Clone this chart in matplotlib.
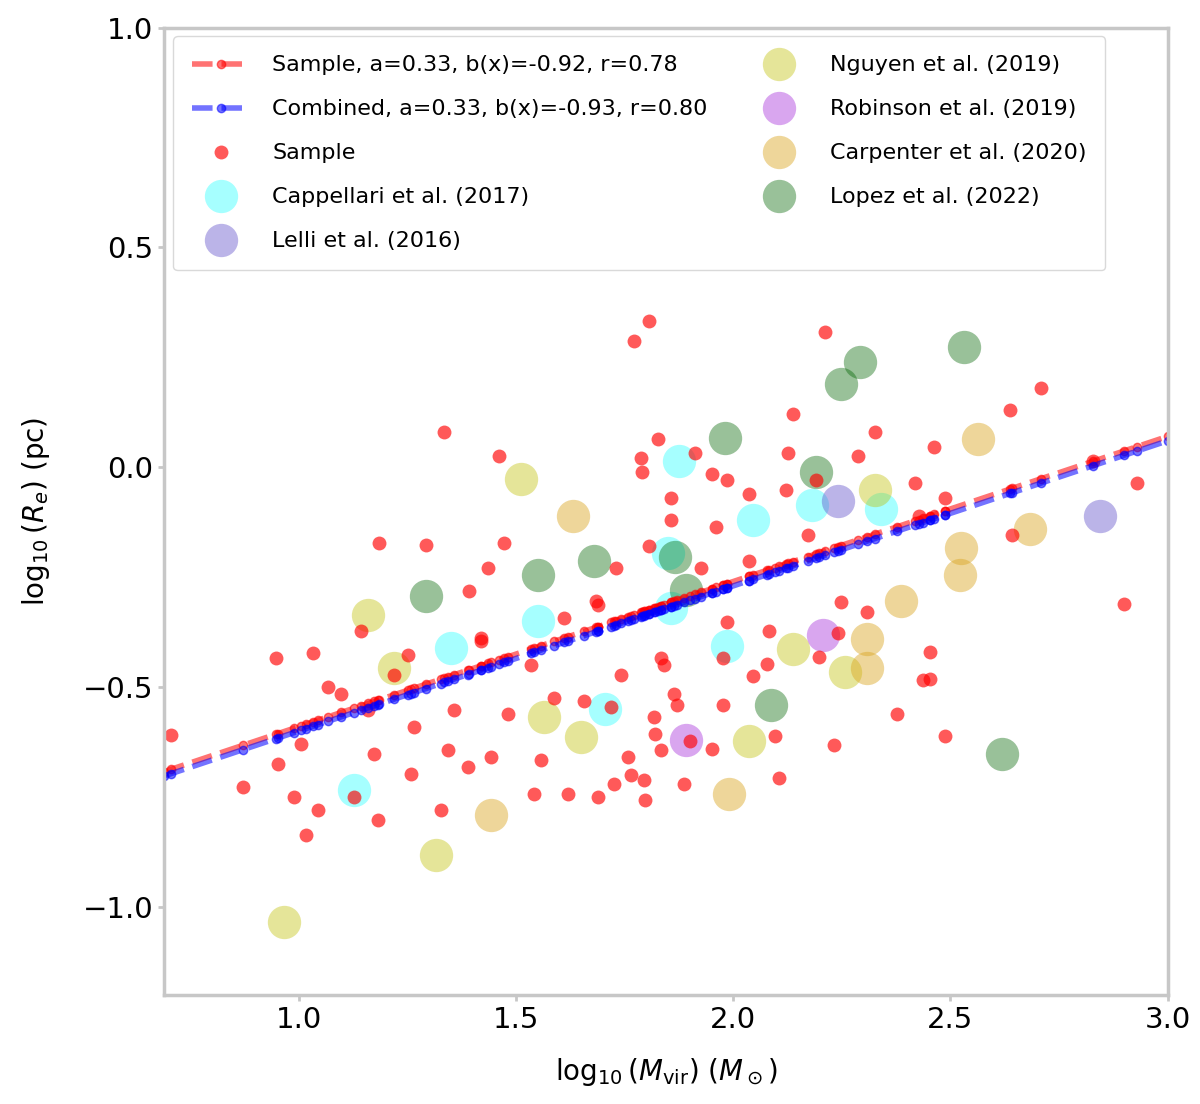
import numpy as np
import matplotlib
matplotlib.use("Agg")
import matplotlib.pyplot as plt

# --- data (log10 units) ---
sample_x = [1.806, 1.771, 1.334, 1.460, 1.184, 1.292, 1.472, 1.435, 1.391, 1.610,
            1.684, 1.419, 1.787, 1.826, 1.856, 2.211, 2.137, 2.126, 2.326, 2.287,
            2.462, 2.637, 2.708, 2.828, 2.929, 1.912, 1.790, 1.856, 1.960, 2.036,
            1.730, 1.806, 1.925, 1.985, 1.950, 2.036, 2.121, 2.190, 2.172, 2.418,
            2.487, 2.427, 2.641, 2.308, 2.241, 1.985, 2.077, 2.453, 0.947, 1.032,
            0.705, 0.871, 0.952, 1.005, 0.989, 1.044, 1.016, 1.067, 1.097, 1.159,
            1.173, 1.127, 1.182, 1.258, 1.265, 1.251, 1.143, 1.219, 1.327, 1.357,
            1.419, 1.343, 1.389, 1.442, 1.481, 1.534, 1.557, 1.541, 1.587, 1.619,
            1.656, 1.688, 1.725, 1.757, 1.794, 1.741, 1.718, 1.833, 1.817, 1.833,
            1.863, 1.688, 2.248, 2.082, 1.976, 2.045, 1.840, 1.870, 1.976, 2.197,
            2.453, 2.436, 2.377, 2.096, 2.232, 2.487, 1.951, 1.820, 1.900, 1.886,
            2.105, 2.899, 1.764, 1.797]
sample_y = [0.332, 0.287, 0.081, 0.026, -0.173, -0.177, -0.173, -0.229, -0.282, -0.343,
            -0.304, -0.388, 0.020, 0.065, -0.071, 0.307, 0.122, 0.033, 0.081, 0.026,
            0.047, 0.131, 0.181, 0.013, -0.037, 0.033, -0.012, -0.121, -0.137, -0.214,
            -0.229, -0.180, -0.229, -0.028, -0.015, -0.062, -0.053, -0.028, -0.155, -0.037,
            -0.071, -0.112, -0.155, -0.329, -0.377, -0.352, -0.447, -0.481, -0.433, -0.422,
            -0.610, -0.728, -0.675, -0.630, -0.750, -0.780, -0.836, -0.501, -0.517, -0.553,
            -0.653, -0.750, -0.802, -0.698, -0.592, -0.427, -0.372, -0.472, -0.780, -0.553,
            -0.395, -0.644, -0.682, -0.660, -0.562, -0.449, -0.666, -0.743, -0.524, -0.743,
            -0.531, -0.750, -0.721, -0.660, -0.712, -0.472, -0.546, -0.433, -0.569, -0.644,
            -0.517, -0.313, -0.307, -0.372, -0.435, -0.474, -0.451, -0.540, -0.540, -0.431,
            -0.420, -0.485, -0.562, -0.612, -0.632, -0.612, -0.641, -0.607, -0.623, -0.721,
            -0.707, -0.311, -0.700, -0.757]

c17_x = [1.550, 1.875, 2.045, 2.181, 1.849, 1.985, 1.127, 1.350, 1.704, 2.340, 1.856]
c17_y = [-0.350, 0.013, -0.121, -0.087, -0.196, -0.407, -0.735, -0.411, -0.549, -0.094, -0.320]

l16_x = [2.844, 2.241]
l16_y = [-0.112, -0.078]

n19_x = [0.965, 1.315, 1.511, 1.159, 2.326, 2.137, 2.257, 1.649, 1.564, 1.219, 2.036]
n19_y = [-1.034, -0.882, -0.026, -0.337, -0.053, -0.413, -0.465, -0.614, -0.569, -0.456, -0.623]

r19_x = [2.206, 1.890]
r19_y = [-0.381, -0.620]

c20_x = [1.442, 1.990, 1.631, 2.563, 2.522, 2.386, 2.683, 2.308, 2.308, 2.524]
c20_y = [-0.791, -0.743, -0.112, 0.063, -0.245, -0.304, -0.140, -0.456, -0.390, -0.184]

l22_x = [2.531, 2.248, 2.291, 1.981, 1.292, 2.618, 1.866, 1.550, 2.190, 1.891, 1.679, 2.087]
l22_y = [0.273, 0.190, 0.239, 0.067, -0.293, -0.653, -0.204, -0.245, -0.010, -0.279, -0.214, -0.540]

# fit parameters (slope, intercept)
fit_a = [0.33, 0.33]
fit_b = [-0.92, -0.93]
fit_labels = ["Sample, a=0.33, b(x)=-0.92, r=0.78",
              "Combined, a=0.33, b(x)=-0.93, r=0.80"]

xlims = (0.69, 3.0)
ylims = (-1.2, 1.0)

fig = plt.figure(figsize=(12, 11.04), dpi=100)
ax = fig.add_axes([0.137, 0.099, 0.836, 0.876])

big = 24
lit = [
    (c17_x, c17_y, "cyan", 0.35, "Cappellari et al. (2017)"),
    (l16_x, l16_y, "slateblue", 0.45, "Lelli et al. (2016)"),
    (n19_x, n19_y, "y", 0.40, "Nguyen et al. (2019)"),
    (r19_x, r19_y, "darkviolet", 0.35, "Robinson et al. (2019)"),
    (c20_x, c20_y, "goldenrod", 0.45, "Carpenter et al. (2020)"),
    (l22_x, l22_y, "darkgreen", 0.40, "Lopez et al. (2022)"),
]
lit_handles = []
for xs, ys, col, al, lab in lit:
    h, = ax.plot(xs, ys, "o", color=col, alpha=al, markersize=big,
                 markeredgewidth=0, label=lab)
    lit_handles.append(h)

hs, = ax.plot(sample_x, sample_y, "o", color="red", alpha=0.65, markersize=10,
              markeredgewidth=0, label="Sample")

# fit lines evaluated at the data positions
xline = np.sort(np.concatenate([[xlims[0]], sample_x, [xlims[1]]]))
line_handles = []
for a, b, col, lab in zip(fit_a, fit_b, ["red", "blue"], fit_labels):
    h, = ax.plot(xline, a * xline + b, "o--", color=col, alpha=0.55, lw=4,
                 markersize=6, label=lab)
    line_handles.append(h)

ax.set_xlim(*xlims)
ax.set_ylim(*ylims)
ax.set_xticks([1.0, 1.5, 2.0, 2.5, 3.0])
ax.set_yticks([-1.0, -0.5, 0.0, 0.5, 1.0])
ax.tick_params(labelsize=21, direction="out", length=4, width=2, color="0.78", pad=4)
for s in ax.spines.values():
    s.set_color("0.78")
    s.set_linewidth(2.5)
ax.set_xlabel(r"$\log_{10}(M_{\rm vir})\ (M_\odot)$", fontsize=20, labelpad=16)
ax.set_ylabel(r"$\log_{10}(R_{e})\ ({\rm pc})$", fontsize=20, labelpad=22)

handles = line_handles + [hs] + lit_handles
leg = ax.legend(handles=handles, ncol=2, loc="upper left", fontsize=16,
                labelspacing=1.08, columnspacing=1.9, handlelength=2.6,
                handletextpad=1.0, borderpad=0.85, framealpha=1.0,
                borderaxespad=0.4)
leg.get_frame().set_edgecolor("0.85")

fig.savefig("out.png", dpi=100)
